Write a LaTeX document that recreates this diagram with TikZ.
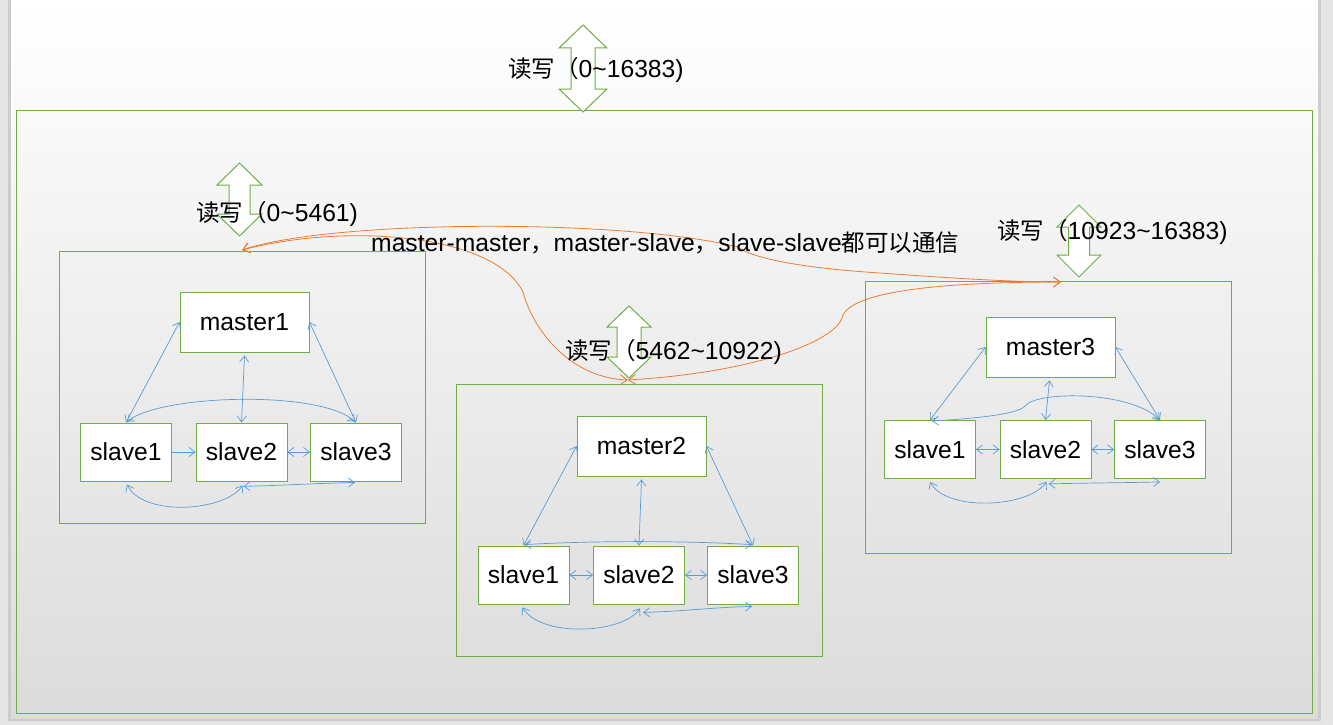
\documentclass[tikz,border=0pt]{standalone}
\usepackage{fontspec}
\setmainfont{Liberation Sans}[Scale=1.05]
\newfontfamily\cjk{Noto Sans CJK SC}
\usetikzlibrary{arrows.meta}
\definecolor{gC}{HTML}{70AD47}
\definecolor{bC}{HTML}{5B9BD5}
\definecolor{oC}{HTML}{ED7D31}
\newcommand\lblfont{\fontsize{23.5}{27}\selectfont}
% x, ytop, ybot, head half width, shaft half width, head length
\newcommand\rwArrow[6]{%
  \draw[rw] (#1,#2) -- ({#1+#4},{#2+#6}) -- ({#1+#5},{#2+#6}) -- ({#1+#5},{#3-#6})
    -- ({#1+#4},{#3-#6}) -- (#1,#3) -- ({#1-#4},{#3-#6}) -- ({#1-#5},{#3-#6})
    -- ({#1-#5},{#2+#6}) -- ({#1-#4},{#2+#6}) -- cycle;}
\begin{document}
\begin{tikzpicture}[x=1pt,y=-1pt,
  box/.style={draw=gC, line width=0.8pt, fill=white, inner sep=0pt, font=\lblfont},
  master/.style={box, minimum width=129pt, minimum height=60pt},
  slave/.style={box, minimum width=91pt, minimum height=58pt},
  cluster/.style={draw=gC, line width=0.8pt, minimum width=366pt, minimum height=272pt, inner sep=0pt},
  lbl/.style={anchor=west, inner sep=0pt, font=\lblfont},
  link/.style={draw=bC, line width=0.7pt, >={Straight Barb[length=6pt,width=9pt]}},
  olink/.style={draw=oC, line width=0.8pt, >={Straight Barb[length=7pt,width=10pt]}},
  rw/.style={draw=gC, line width=1pt, fill=white, line join=miter}]
\useasboundingbox (0,0) rectangle (1333,725);
% slide background
\fill[black!10] (0,0) rectangle (1333,725);
\fill[black!20] (8,0) rectangle (1321,721);
\shade[top color=white, bottom color=black!14] (11,0) rectangle (1318,718);
% outer frame
\node[draw=gC, line width=1pt, minimum width=1296pt, minimum height=603pt, inner sep=0pt] (frame) at (664,411.5) {};
% top read/write arrow
\rwArrow{583}{25}{112}{24}{12}{23}
% cluster 1
\node[cluster] (k1) at (242.5,387) {};
\node[master] (m1) at (244.5,322) {master1};
\node[slave] (a1) at (126,452) {slave1};
\node[slave] (a2) at (241.5,452) {slave2};
\node[slave] (a3) at (356,452) {slave3};
\draw[link,<->] (m1.west) -- (a1.north);
\draw[link,<->] ([shift={(0,3)}]m1.south) -- (a2.north);
\draw[link,<->] (m1.east) -- (a3.north);
\draw[link,<->] ([shift={(1,-1)}]a1.north) .. controls +(33,-27) and +(-35,-32) .. ([shift={(-1,-1)}]a3.north);
\draw[link,->] (a1.east) -- (a2.west);
\draw[link,<->] (a2.east) -- (a3.west);
\draw[link,<->] ([shift={(1,3)}]a1.south) .. controls +(16,33) and +(-17,26) .. ([shift={(1,4)}]a2.south);
\draw[link,<->] ([shift={(2,5)}]a2.south) .. controls +(40,-1) and +(-40,1) .. ([shift={(-1,1)}]a3.south);
% cluster 2
\node[cluster] (k2) at (639.5,520) {};
\node[master] (m2) at (641.5,446) {master2};
\node[slave] (b1) at (523.5,575) {slave1};
\node[slave] (b2) at (639,575) {slave2};
\node[slave] (b3) at (753,575) {slave3};
\draw[link,<->] (m2.west) -- (b1.north);
\draw[link,<->] ([shift={(0,3)}]m2.south) -- (b2.north);
\draw[link,<->] (m2.east) -- (b3.north);
\draw[link,<->] ([shift={(1,-1)}]b1.north) .. controls +(70,-4) and +(-70,-4) .. ([shift={(-1,-1)}]b3.north);
\draw[link,<->] (b1.east) -- (b2.west);
\draw[link,<->] (b2.east) -- (b3.west);
\draw[link,<->] ([shift={(-1,3)}]b1.south) .. controls +(18,30) and +(-18,26) .. ([shift={(1,4)}]b2.south);
\draw[link,<->] ([shift={(4,8)}]b2.south) .. controls +(40,-1) and +(-40,1) .. ([shift={(-1,2)}]b3.south);
% cluster 3
\node[cluster] (k3) at (1048.5,417) {};
\node[master] (m3) at (1050.5,347) {master3};
\node[slave] (c1) at (930,449.5) {slave1};
\node[slave] (c2) at (1045.5,449.5) {slave2};
\node[slave] (c3) at (1160,449.5) {slave3};
\draw[link,<->] (m3.west) -- (c1.north);
\draw[link,<->] ([shift={(-1,3)}]m3.south) -- (c2.north);
\draw[link,<->] (m3.east) -- (c3.north);
\draw[link,<->] ([shift={(2,1)}]c1.north) .. controls +(48,-3) and +(-8,8) .. ++(93,-15)
   .. controls +(10,-15) and +(-30,-30) .. (c3.north);
\draw[link,<->] (c1.east) -- (c2.west);
\draw[link,<->] (c2.east) -- (c3.west);
\draw[link,<->] ([shift={(0,3)}]c1.south) .. controls +(16,30) and +(-18,26) .. ([shift={(1,3)}]c2.south);
\draw[link,<->] ([shift={(3,5)}]c2.south) .. controls +(40,-1) and +(-40,1) .. ([shift={(0,3)}]c3.south);
% cluster read/write arrows
\rwArrow{239.5}{163}{236}{22.5}{10.5}{22}
\rwArrow{629}{306}{378}{22}{12}{21}
\rwArrow{1079}{205}{277}{22}{10.5}{22}
% orange master links
\coordinate (t1) at (242,250);
\coordinate (t2) at (628,380);
\coordinate (t3) at (1061,282);
\draw[olink,<->] (t1) .. controls (350,222) and (495,235) .. (523,292)
   .. controls (533,330) and (570,378) .. (t2);
\draw[olink,<->] (t1) .. controls (330,220) and (620,218) .. (738,247)
   .. controls (752,258) and (800,268) .. (880,273)
   .. controls (950,278) and (1010,282) .. (t3);
\draw[olink,<->] (t2) .. controls (760,372) and (835,340) .. (842,318)
   .. controls (848,290) and (950,282) .. (t3);
% labels
\node[lbl] (l0) at (508,70) {{\cjk 读写（}0\textasciitilde16383)};
\node[lbl] (l1) at (196,214) {{\cjk 读写（}0\textasciitilde5461)};
\node[lbl] (l2) at (565,352) {{\cjk 读写（}5462\textasciitilde10922)};
\node[lbl] (l3) at (997,232) {{\cjk 读写（}10923\textasciitilde16383)};
\node[lbl] (l4) at (371,243) {master-master{\cjk ，}master-slave{\cjk ，}slave-slave{\cjk 都可以通信}};
\end{tikzpicture}
\end{document}
